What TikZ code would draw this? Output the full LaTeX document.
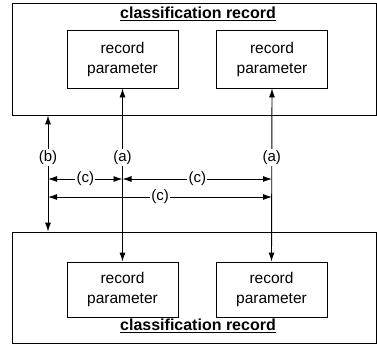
\documentclass[tikz,border=0pt]{standalone}
\usepackage{fontspec}
\setmainfont{Liberation Sans}
\usetikzlibrary{arrows.meta}

\tikzstyle{frame} = [draw, rectangle, line width=0.8pt, minimum width=364, minimum height=112]
\tikzstyle{param-block} = [draw, rectangle, line width=0.9pt, align=center, minimum width=111, minimum height=58, font=\fontsize{15.5}{20}\selectfont]
\tikzstyle{title} = [font=\fontsize{16}{18}\selectfont\bfseries]
\tikzstyle{dim} = [line width=0.9pt, {Latex[length=9pt,width=6pt]}-{Latex[length=9pt,width=6pt]}]
\tikzstyle{lbl} = [fill=white, inner sep=1.5pt, font=\fontsize{15}{17}\selectfont]

\begin{document}
\begin{tikzpicture}[x=1pt, y=-1pt]
	\useasboundingbox (0,0) rectangle (377,346);

	 \node [frame] (top-frame) at (194,59) {};
	 \node [frame, minimum height=111] (bottom-frame) at (194,287.5) {};
	 \node [title] (top-title) at (198,14) {\underline{classification record}};
	 \node [title] (bottom-title) at (198,326) {\underline{classification record}};

	 \node [param-block] (top-left) at (122.5,59) {record\\parameter};
	 \node [param-block] (top-right) at (272,59) {record\\parameter};
	 \node [param-block, minimum height=55] (bottom-left) at (122.5,289.5) {record\\parameter};
	 \node [param-block, minimum height=55] (bottom-right) at (271.5,289.5) {record\\parameter};

	 \coordinate (b-line) at (48,0);
	 \coordinate (c-upper) at (48,179);
	 \coordinate (c-lower) at (48,197);

	% (a) and (b)
	\draw[dim] (top-left.south) -- node[lbl, pos=0.4] {(a)} (bottom-left.north);
	\draw[dim] (top-right.south) -- node[lbl, pos=0.4] {(a)} (bottom-right.north);
	\draw[dim] (top-frame.south -| b-line) -- node[lbl, pos=0.36] {(b)} (bottom-frame.north -| b-line);

	% (c)
	\draw[dim] (c-upper) -- node[lbl] {(c)} (c-upper -| top-left.south);
	\draw[dim] (c-upper -| top-left.south) -- node[lbl] {(c)} (c-upper -| top-right.south);
	\draw[dim] (c-lower) -- node[lbl] {(c)} (c-lower -| top-right.south);

\end{tikzpicture}
\end{document}
